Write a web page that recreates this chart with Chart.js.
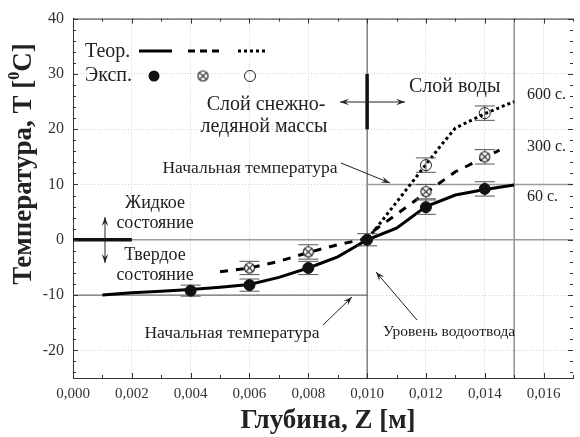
<!DOCTYPE html>
<html>
<head>
<meta charset="utf-8">
<script src="https://cdn.jsdelivr.net/npm/chart.js@4/dist/chart.umd.min.js"></script>
<style>
  body { margin: 0; background: #fff; }
  canvas { display: block; }
</style>
</head>
<body>
<canvas id="chart" width="580" height="437"></canvas>
<script>
// theory curves (depth in m, temperature in C)
const depth60 = [0.001, 0.002, 0.003, 0.004, 0.005, 0.006, 0.007, 0.008, 0.009, 0.010, 0.011, 0.012, 0.013, 0.014, 0.015];
const temp60 = [-10, -9.6, -9.3, -9.0, -8.6, -8.1, -6.8, -5.1, -3.1, 0, 2.1, 6.0, 8.1, 9.1, 9.9];
const depth300 = [0.005, 0.006, 0.007, 0.008, 0.009, 0.0098, 0.011, 0.012, 0.013, 0.0145];
const temp300 = [-5.8, -5.1, -3.9, -2.3, -0.9, 0, 4.6, 8.5, 12.3, 16.2];
const depth600 = [0.0097, 0.010, 0.011, 0.012, 0.0125, 0.013, 0.014, 0.015];
const temp600 = [-1, 0, 6.8, 13.6, 17, 20.2, 22.8, 25];

// experiment points with error
const expDepth60 = [0.004, 0.006, 0.008, 0.010, 0.012, 0.014];
const exp60 = [-9.2, -8.2, -5.1, 0, 5.9, 9.2];
const err60 = [1.0, 1.1, 1.2, 1.1, 1.3, 1.3];
const expDepth300 = [0.006, 0.008, 0.012, 0.014];
const exp300 = [-5.1, -2.2, 8.7, 15.0];
const err300 = [1.2, 1.3, 1.3, 1.3];
const expDepth600 = [0.012, 0.014];
const exp600 = [13.5, 22.9];
const err600 = [1.3, 1.3];

// reference lines
const refX = [[0, 0.017], [0.010, 0.017], [0, 0.010], [0.010, 0.010], [0.015, 0.015], [0, 0.002], [0.010, 0.010]];
const refY = [[0, 0], [10, 10], [-10, -10], [-25, 40], [-25, 40], [0, 0], [20, 30]];
const refColor = ['#9a9a9a', '#9a9a9a', '#6a6a6a', '#444', '#777', '#111', '#111'];
const refWidth = [1.5, 1.5, 1.3, 1, 1.2, 3.5, 3.5];

const FONT = '"Liberation Serif", "Times New Roman", serif';

function toPts(xs, ys) {
    return xs.map((x, i) => ({ x: x, y: ys[i] }));
}

// crossed circle marker
function crossCircle() {
    const c = document.createElement('canvas');
    c.width = 13;
    c.height = 13;
    const g = c.getContext('2d');
    g.strokeStyle = '#222';
    g.lineWidth = 1.2;
    g.fillStyle = '#fff';
    g.beginPath();
    g.arc(6.5, 6.5, 5, 0, Math.PI * 2);
    g.fill();
    g.stroke();
    g.beginPath();
    g.moveTo(3.3, 3.3); g.lineTo(9.7, 9.7);
    g.moveTo(9.7, 3.3); g.lineTo(3.3, 9.7);
    g.stroke();
    return c;
}
const crossMark = crossCircle();

const datasets = [];
refX.forEach((xs, i) => {
    datasets.push({
        data: toPts(xs, refY[i]),
        showLine: true, pointRadius: 0,
        borderColor: refColor[i], borderWidth: refWidth[i],
        order: refWidth[i] > 3 ? 9 : 10
    });
});
datasets.push({
    data: toPts(depth60, temp60), showLine: true, pointRadius: 0,
    borderColor: '#000', borderWidth: 3, order: 5
});
datasets.push({
    data: toPts(depth300, temp300), showLine: true, pointRadius: 0,
    borderColor: '#000', borderWidth: 3, borderDash: [8, 8], order: 5
});
datasets.push({
    data: toPts(depth600, temp600), showLine: true, pointRadius: 0,
    borderColor: '#000', borderWidth: 3, borderDash: [3, 3], order: 5
});
datasets.push({
    data: toPts(expDepth60, exp60), err: err60, pointRadius: 5.5,
    pointStyle: 'circle', backgroundColor: '#111', borderColor: '#111', order: 1
});
datasets.push({
    data: toPts(expDepth300, exp300), err: err300, pointRadius: 6,
    pointStyle: crossMark, order: 1
});
datasets.push({
    data: toPts(expDepth600, exp600), err: err600, pointRadius: 5.5,
    pointStyle: 'circle', backgroundColor: 'rgba(0,0,0,0)', borderColor: '#222', borderWidth: 1, order: 1
});

function arrowHead(ctx, x1, y1, x2, y2) {
    const a = Math.atan2(y2 - y1, x2 - x1);
    const L = 9, W = 3.2;
    ctx.beginPath();
    ctx.moveTo(x2, y2);
    ctx.lineTo(x2 - L * Math.cos(a) + W * Math.sin(a), y2 - L * Math.sin(a) - W * Math.cos(a));
    ctx.lineTo(x2 - 0.6 * L * Math.cos(a), y2 - 0.6 * L * Math.sin(a));
    ctx.lineTo(x2 - L * Math.cos(a) - W * Math.sin(a), y2 - L * Math.sin(a) + W * Math.cos(a));
    ctx.closePath();
    ctx.fill();
}

function arrow(ctx, x1, y1, x2, y2, both) {
    ctx.beginPath();
    ctx.moveTo(x1, y1);
    ctx.lineTo(x2, y2);
    ctx.stroke();
    arrowHead(ctx, x1, y1, x2, y2);
    if (both) arrowHead(ctx, x2, y2, x1, y1);
}

function text(ctx, s, x, y, size, align) {
    ctx.font = size + 'px ' + FONT;
    ctx.textAlign = align || 'center';
    ctx.textBaseline = 'middle';
    ctx.fillText(s, x, y);
}

const deco = {
    id: 'deco',
    beforeDatasetDraw(chart, args) {
        const ds = chart.data.datasets[args.index];
        if (!ds.err) return;
        const ctx = chart.ctx;
        const xs = chart.scales.x, ys = chart.scales.y;
        ctx.save();
        ctx.lineWidth = 1;
        ctx.strokeStyle = '#555';
        ds.data.forEach((p, i) => {
            const e = ds.err[i];
            const px = xs.getPixelForValue(p.x);
            const top = ys.getPixelForValue(p.y + e);
            const bot = ys.getPixelForValue(p.y - e);
            ctx.beginPath();
            ctx.moveTo(px, top); ctx.lineTo(px, bot);
            ctx.moveTo(px - 10, top); ctx.lineTo(px + 10, top);
            ctx.moveTo(px - 10, bot); ctx.lineTo(px + 10, bot);
            ctx.stroke();
        });
        ctx.restore();
    },
    afterDraw(chart) {
        const ctx = chart.ctx;
        const a = chart.chartArea;
        const xs = chart.scales.x, ys = chart.scales.y;
        ctx.save();

        // frame and inward ticks
        ctx.strokeStyle = '#333';
        ctx.lineWidth = 1;
        ctx.beginPath();
        ctx.moveTo(a.left, a.top + 0.5); ctx.lineTo(a.right, a.top + 0.5);
        for (let v = -24; v <= 40; v += 2) {
            const py = Math.round(ys.getPixelForValue(v)) + 0.5;
            const len = v % 10 === 0 ? 5 : 3;
            ctx.moveTo(a.left, py); ctx.lineTo(a.left + len, py);
            ctx.moveTo(a.right, py); ctx.lineTo(a.right - len, py);
        }
        for (let k = 0; k <= 17; k++) {
            const px = Math.round(xs.getPixelForValue(k * 0.001)) + 0.5;
            const len = k % 2 === 0 ? 5 : 3;
            ctx.moveTo(px, a.bottom); ctx.lineTo(px, a.bottom - len);
            ctx.moveTo(px, a.top); ctx.lineTo(px, a.top + len);
        }
        ctx.stroke();

        // legend
        ctx.fillStyle = '#222';
        text(ctx, 'Теор.', 85, 52, 20, 'left');
        text(ctx, 'Эксп.', 85, 76, 20, 'left');
        ctx.strokeStyle = '#000';
        ctx.lineWidth = 3;
        [[139, 172, []], [188, 221, [7, 5]], [238, 267, [3, 3]]].forEach(s => {
            ctx.setLineDash(s[2]);
            ctx.beginPath();
            ctx.moveTo(s[0], 51); ctx.lineTo(s[1], 51);
            ctx.stroke();
        });
        ctx.setLineDash([]);
        ctx.fillStyle = '#111';
        ctx.beginPath();
        ctx.arc(154, 76, 5.5, 0, Math.PI * 2);
        ctx.fill();
        ctx.drawImage(crossMark, 203 - 6.5, 76 - 6.5);
        ctx.lineWidth = 1;
        ctx.strokeStyle = '#222';
        ctx.beginPath();
        ctx.arc(250, 76, 5.5, 0, Math.PI * 2);
        ctx.stroke();

        // annotations
        ctx.fillStyle = '#222';
        text(ctx, 'Слой снежно-', 266, 105, 20);
        text(ctx, 'ледяной массы', 264, 127, 20);
        text(ctx, 'Слой воды', 409, 87, 20, 'left');
        text(ctx, '600 с.', 527, 95, 16, 'left');
        text(ctx, '300 с.', 527, 147, 16, 'left');
        text(ctx, '60 с.', 527, 197, 16, 'left');
        text(ctx, 'Начальная температура', 250, 168, 17.5);
        text(ctx, 'Жидкое', 155, 203, 18);
        text(ctx, 'состояние', 155, 223, 18);
        text(ctx, 'Твердое', 155, 255, 18);
        text(ctx, 'состояние', 155, 275, 18);
        text(ctx, 'Начальная температура', 232, 333, 17.5);
        text(ctx, 'Уровень водоотвода', 383, 332, 15.5, 'left');

        ctx.strokeStyle = '#222';
        ctx.fillStyle = '#222';
        ctx.lineWidth = 1;
        arrow(ctx, 340, 102, 405, 102, true);
        arrow(ctx, 105, 217, 105, 263, true);
        arrow(ctx, 341, 163, 390, 183);
        arrow(ctx, 323, 325, 352, 297);
        arrow(ctx, 417, 320, 376, 272);

        // axis titles
        ctx.fillStyle = '#222';
        ctx.font = 'bold 27px ' + FONT;
        ctx.textAlign = 'center';
        ctx.textBaseline = 'middle';
        ctx.fillText('Глубина, Z [м]', 328, 421);

        ctx.translate(22, 164);
        ctx.rotate(-Math.PI / 2);
        const p1 = 'Температура, T [', p2 = '0', p3 = 'C]';
        ctx.font = 'bold 27px ' + FONT;
        const w1 = ctx.measureText(p1).width, w3 = ctx.measureText(p3).width;
        ctx.font = 'bold 16px ' + FONT;
        const w2 = ctx.measureText(p2).width;
        let x0 = -(w1 + w2 + w3) / 2;
        ctx.textAlign = 'left';
        ctx.textBaseline = 'alphabetic';
        ctx.font = 'bold 27px ' + FONT;
        ctx.fillText(p1, x0, 9);
        ctx.font = 'bold 16px ' + FONT;
        ctx.fillText(p2, x0 + w1, -3);
        ctx.font = 'bold 27px ' + FONT;
        ctx.fillText(p3, x0 + w1 + w2, 9);
        ctx.restore();
    }
};

new Chart(document.getElementById('chart'), {
    type: 'scatter',
    data: { datasets: datasets },
    plugins: [deco],
    options: {
        responsive: false,
        animation: false,
        layout: { padding: { top: 18, right: 0, left: 0, bottom: 0 } },
        plugins: { legend: { display: false }, tooltip: { enabled: false } },
        scales: {
            x: {
                type: 'linear', min: 0, max: 0.017,
                afterFit: s => { s.height = 59; },
                ticks: {
                    stepSize: 0.002, includeBounds: false, padding: 7,
                    color: '#333', font: { family: FONT, size: 15 },
                    callback: v => v.toFixed(3).replace('.', ',')
                },
                grid: { color: '#cfcfcf', drawTicks: false },
                border: { color: '#333', width: 1, dash: [1, 2] }
            },
            y: {
                min: -25, max: 40,
                afterFit: s => { s.width = 73; },
                ticks: {
                    stepSize: 10, includeBounds: false, padding: 9,
                    color: '#333', font: { family: FONT, size: 16 },
                    callback: v => String(Math.round(v))
                },
                grid: { color: '#cfcfcf', drawTicks: false },
                border: { color: '#333', width: 1, dash: [1, 2] }
            }
        }
    }
});
</script>
</body>
</html>
